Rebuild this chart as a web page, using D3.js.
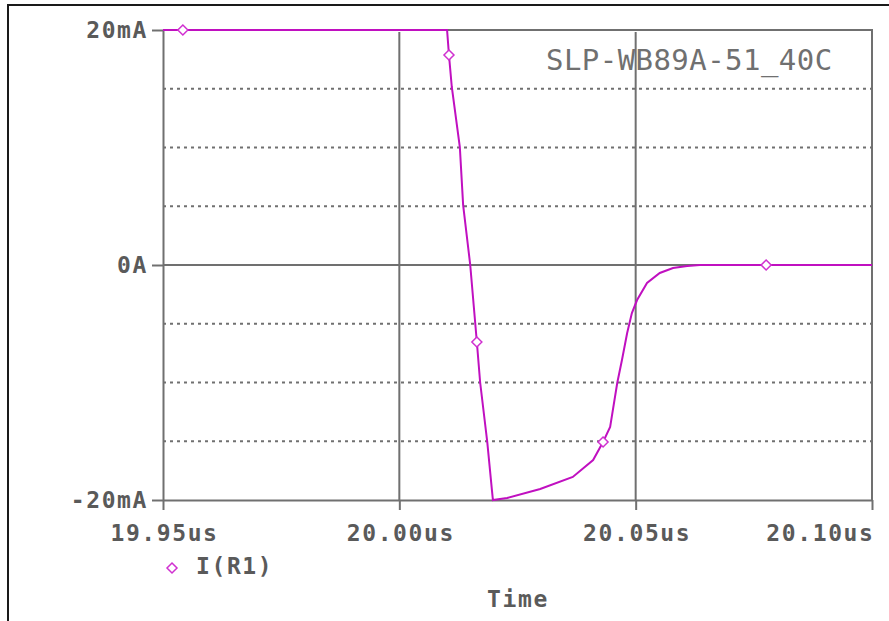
<!DOCTYPE html>
<html>
<head>
<meta charset="utf-8">
<script src="https://d3js.org/d3.v7.min.js"></script>
<style>
    body { margin: 0; background: #fff; }
    svg { display: block; }
    .lbl { font-family: "DejaVu Sans Mono", monospace; font-weight: bold; font-size: 23px; fill: #5a5a5a; letter-spacing: 1.6px; }
</style>
</head>
<body>
<script>
// I(R1) waveform, time in us, current in mA
var timeUs = [19.95, 20.0101, 20.0105, 20.0111, 20.0128, 20.0135, 20.0150, 20.0164, 20.0171, 20.0186, 20.0196, 20.0198,
              20.0228, 20.0298, 20.0367, 20.0410, 20.0431, 20.0446, 20.0461, 20.0471, 20.0482, 20.0492, 20.0503,
              20.0524, 20.0551, 20.0579, 20.0609, 20.0636, 20.10];
var currentMa = [20, 20, 17.87, 15.15, 10.04, 5.1, 0, -6.55, -10.0, -15.06, -19.2, -20,
                 -19.83, -19.06, -18.04, -16.6, -15.06, -13.79, -10.04, -8.09, -5.79, -4.09, -2.98,
                 -1.53, -0.68, -0.26, -0.09, 0, 0];
var markerTime = [19.9542, 20.0105, 20.0164, 20.0431, 20.0776];
var markerCurrent = [20, 17.87, -6.55, -15.06, 0];

var xTicks = [19.95, 20.00, 20.05, 20.10];
var xTickLabels = ["19.95us", "20.00us", "20.05us", "20.10us"];
var yTicks = [-20, 0, 20];
var yTickLabels = ["-20mA", "0A", "20mA"];
var dottedLevels = [-15, -10, -5, 5, 10, 15];

var width = 889, height = 621;
var plotLeft = 163, plotRight = 872, plotTop = 30, plotBottom = 500;
var axisColor = "#707070";
var traceColor = "#c010c0";

var svg = d3.select("body").append("svg")
    .attr("width", width)
    .attr("height", height);

var x = d3.scaleLinear().domain([19.95, 20.10]).range([plotLeft, plotRight]);
var y = d3.scaleLinear().domain([-20, 20]).range([plotBottom, plotTop]);

// outer frame
svg.append("path")
    .attr("d", "M8,621V5H889")
    .attr("fill", "none")
    .attr("stroke", "#1a1a1a")
    .attr("stroke-width", 2);

// curve name
svg.append("text")
    .attr("x", 546)
    .attr("y", 70)
    .attr("font-family", "'DejaVu Sans Mono', monospace")
    .attr("font-size", 29)
    .attr("letter-spacing", 0.45)
    .attr("fill", "#707070")
    .text("SLP-WB89A-51_40C");

// dotted horizontal grid
svg.append("g").selectAll("line")
    .data(dottedLevels)
    .join("line")
    .attr("x1", plotLeft)
    .attr("x2", plotRight)
    .attr("y1", d => y(d))
    .attr("y2", d => y(d))
    .attr("stroke", axisColor)
    .attr("stroke-width", 2)
    .attr("stroke-dasharray", "3,4");

// solid zero line and vertical grid
svg.append("line")
    .attr("x1", plotLeft).attr("x2", plotRight)
    .attr("y1", y(0)).attr("y2", y(0))
    .attr("stroke", axisColor).attr("stroke-width", 2);

svg.append("g").selectAll("line")
    .data(xTicks.slice(1, 3))
    .join("line")
    .attr("x1", d => x(d))
    .attr("x2", d => x(d))
    .attr("y1", plotTop + 2)
    .attr("y2", plotBottom)
    .attr("stroke", axisColor)
    .attr("stroke-width", 2);

// top and right border
svg.append("path")
    .attr("d", "M" + plotLeft + "," + plotTop + "H" + plotRight + "V" + plotBottom)
    .attr("fill", "none")
    .attr("stroke", axisColor)
    .attr("stroke-width", 2);

// axes
var xAxis = svg.append("g")
    .attr("transform", "translate(0," + plotBottom + ")")
    .call(d3.axisBottom(x).tickValues(xTicks).tickFormat((d, i) => xTickLabels[i]).tickSize(10).tickSizeOuter(0));
var yAxis = svg.append("g")
    .attr("transform", "translate(" + plotLeft + ",0)")
    .call(d3.axisLeft(y).tickValues(yTicks).tickFormat((d, i) => yTickLabels[i]).tickSize(11).tickSizeOuter(0));

[xAxis, yAxis].forEach(function(a) {
    a.attr("font-family", null).attr("font-size", null);
    a.select(".domain").attr("stroke", axisColor).attr("stroke-width", 2);
    a.selectAll(".tick line").attr("stroke", axisColor).attr("stroke-width", 2);
    a.selectAll(".tick text").attr("class", "lbl").attr("fill", null);
});
xAxis.selectAll(".tick text").attr("y", 41).attr("dy", null)
    .attr("text-anchor", (d, i) => i == xTicks.length - 1 ? "end" : "middle")
    .attr("dx", (d, i) => i == xTicks.length - 1 ? 2 : 1);
yAxis.selectAll(".tick text").attr("x", -15).attr("dy", null).attr("y", 7);

// trace
var pts = timeUs.map((t, i) => [t, currentMa[i]]);
svg.append("path")
    .datum(pts)
    .attr("fill", "none")
    .attr("stroke", traceColor)
    .attr("stroke-width", 2)
    .attr("d", d3.line().x(d => x(d[0])).y(d => y(d[1])));

var diamond = "M0,-5L5,0L0,5L-5,0Z";
svg.append("g").selectAll("path")
    .data(markerTime)
    .join("path")
    .attr("transform", (d, i) => "translate(" + x(d) + "," + y(markerCurrent[i]) + ")")
    .attr("d", diamond)
    .attr("fill", "#fff")
    .attr("stroke", "#d030d0")
    .attr("stroke-width", 1.5);

// legend
svg.append("path")
    .attr("transform", "translate(172,568)")
    .attr("d", diamond)
    .attr("fill", "#fff")
    .attr("stroke", "#d030d0")
    .attr("stroke-width", 1.5);
svg.append("text")
    .attr("class", "lbl")
    .attr("x", 196)
    .attr("y", 574)
    .text("I(R1)");

svg.append("text")
    .attr("class", "lbl")
    .attr("x", 518)
    .attr("y", 607)
    .attr("text-anchor", "middle")
    .text("Time");
</script>
</body>
</html>
